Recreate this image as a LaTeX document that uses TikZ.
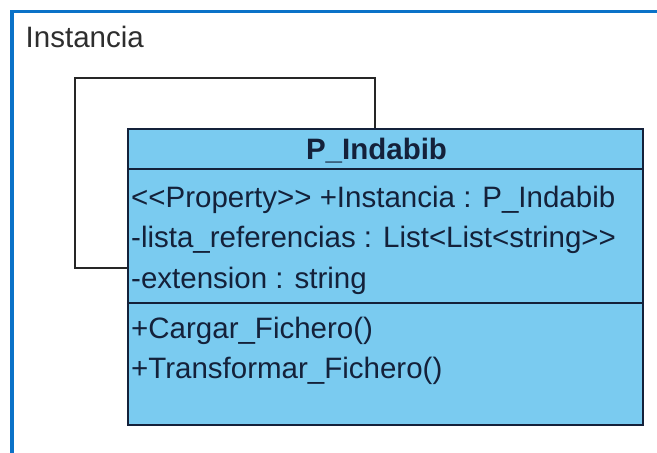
\documentclass[tikz,border=0pt]{standalone}
\usepackage{fontspec}
\setmainfont{Liberation Sans}
\definecolor{frameblue}{HTML}{0A72C8}
\definecolor{classfill}{HTML}{7ACBF0}
\definecolor{ink}{HTML}{14213A}
\begin{document}
\begin{tikzpicture}[x=1pt,y=-1pt,
  txt/.style={font=\fontsize{29.5}{35}\selectfont, text=ink, inner sep=0pt, anchor=base west},
  headtxt/.style={font=\fontsize{29.5}{35}\selectfont\bfseries, text=ink, inner sep=0pt, anchor=base},
  umlbox/.style={draw=ink, line width=2pt, fill=classfill, minimum width=515pt, minimum height=296pt, inner sep=0pt},
  loopline/.style={draw=black!85, line width=2pt},
  divider/.style={draw=ink, line width=2pt}]
\useasboundingbox (0,0) rectangle (657,453);
\fill[white] (0,0) rectangle (657,453);
\draw[frameblue, line width=3.5pt] (12,453) -- (12,11.5) -- (657,11.5);
\node[txt, text=black!82] (lbl) at (25.5,47) {Instancia};
\coordinate (lt) at (375,78);
\coordinate (lb) at (75,268);
\coordinate (d1) at (0,168.5);
\coordinate (d2) at (0,302.5);
\node[umlbox] (cls) at (385.5,277) {};
\draw[loopline] (cls.north west -| lt) -- (lt) -| (lb) -- (lb -| cls.west);
\draw[divider] (d1 -| cls.west) -- (d1 -| cls.east);
\draw[divider] (d2 -| cls.west) -- (d2 -| cls.east);
\node[headtxt] (hd) at (376.5,159) {P\_Indabib};
\node[txt] (a1) at (131,207) {<\kern0pt<Property>\kern0pt> +Instancia : P\_Indabib};
\node[txt] (a2) at (131,247) {-lista\_referencias : List<List<string>\kern0pt>};
\node[txt] (a3) at (131,288) {-extension : string};
\node[txt] (o1) at (131,338) {+Cargar\_Fichero()};
\node[txt] (o2) at (131,378) {+Transformar\_Fichero()};
\end{tikzpicture}
\end{document}
